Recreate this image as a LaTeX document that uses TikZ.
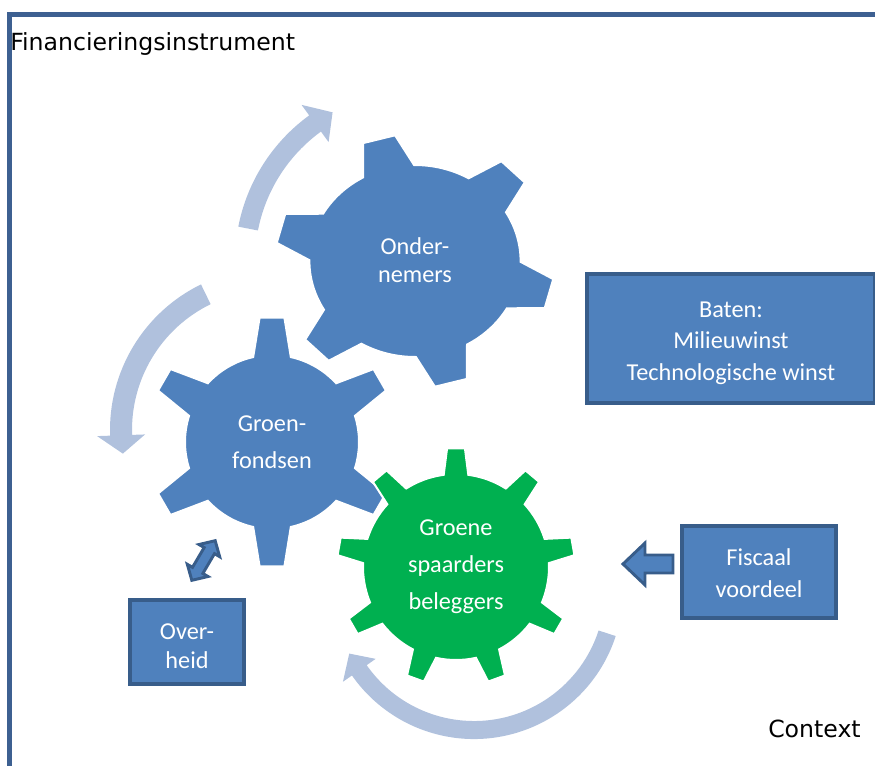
\documentclass[tikz,border=0pt]{standalone}
\usepackage{fontspec}
\setmainfont{Carlito}
\newfontfamily\verdanafont{DejaVu Sans}
\usetikzlibrary{positioning}
\definecolor{gearblue}{HTML}{4F81BD}
\definecolor{edgeblue}{HTML}{385D8A}
\definecolor{geargreen}{HTML}{00B050}
\definecolor{arrowgrey}{HTML}{B0C1DD}
\definecolor{framecol}{HTML}{3D6091}
\newcommand*\mydrawgear[8][gearblue]{%
    \pgfmathsetmacro\gstep{360/#3}%
    \fill[shift={(#2)},#1,draw=white,line width=1.5pt] ({#4-#7}:#5)
      \foreach \k in {1,...,#3}{
        -- ({#4+(\k-1)*\gstep-#8}:#6) -- ({#4+(\k-1)*\gstep+#8}:#6)
        -- ({#4+(\k-1)*\gstep+#7}:#5)
        arc[start angle={#4+(\k-1)*\gstep+#7},end angle={#4+\k*\gstep-#7},radius=#5]
      } -- cycle;
}
\newcommand*\mydrawbend[7]{%
    \fill[arrowgrey,shift={(#1)}] (#4:{#2+#3/2})
      arc[start angle=#4,end angle=#5,radius={#2+#3/2}]
      -- (#5:{#2+#7}) -- (#6:#2) -- (#5:{#2-#7}) -- (#5:{#2-#3/2})
      arc[start angle=#5,end angle=#4,radius={#2-#3/2}] -- cycle;
}
\tikzset{
    geartext/.style={text=white,align=center,inner sep=0pt},
    infobox/.style={fill=gearblue,draw=edgeblue,line width=3pt,inner sep=0pt},
    blockarrow/.style={fill=gearblue,draw=edgeblue,line width=2.2pt,line join=miter},
}

\begin{document}
\begin{tikzpicture}[x=0.75pt,y=-0.75pt]
\useasboundingbox (0,0) rectangle (875,765);
\clip (0,0) rectangle (875,765);
\draw[framecol,line width=3.75pt] (9,800) -- (9,14.5) -- (900,14.5);

\coordinate (O) at (415,261);
\coordinate (G) at (272,442);
\coordinate (S) at (456,567);
\coordinate (Ga) at (272,430);
\coordinate (Sa) at (474,590);

% turning arrows
\mydrawbend{O}{170}{20}{191}{234}{241}{23}
\mydrawbend{Ga}{151}{22}{244}{178}{171}{24}
\mydrawbend{Sa}{140}{18}{18}{145}{153}{20}

% gears
\mydrawgear[gearblue,xscale=1.1]{O}{6}{15}{96}{127}{14.5}{6.8}
\mydrawgear{G}{6}{30}{87}{125}{12.5}{5.7}
\mydrawgear[geargreen]{S}{9}{30}{93}{119}{7.6}{4.3}

\node[geartext,font=\fontsize{18.2}{21}\selectfont] (onder) at ([yshift=1pt]O) {Onder-\\nemers};
\node[geartext,font=\fontsize{18.2}{27.75}\selectfont] (groen) at (G) {Groen-\\fondsen};
\node[geartext,font=\fontsize{18.2}{27.75}\selectfont] (spaar) at (S) {Groene\\spaarders\\beleggers};

\node[infobox,minimum width=216pt,minimum height=96.75pt] (baten) at (731,338.5) {};
\node[geartext,font=\fontsize{18.2}{23.6}\selectfont] (batentext) at ([yshift=-3.5pt]baten) {Baten:\\Milieuwinst\\Technologische winst};
\node[infobox,minimum width=115.5pt,minimum height=69pt] (fiscaal) at (759,572) {};
\node[geartext,font=\fontsize{18.2}{24}\selectfont] (fiscaaltext) at ([yshift=-1pt]fiscaal) {Fiscaal\\voordeel};
\node[infobox,minimum width=85.5pt,minimum height=63pt] (over) at (187,642) {};
\node[geartext,font=\fontsize{18.2}{21.75}\selectfont] (overtext) at ([yshift=-3.5pt]over) {Over-\\heid};

% block arrows
\draw[blockarrow] (623,564) -- (645,543) -- (645,555) -- (673,555) -- (673,573) -- (645,573) -- (645,585) -- cycle;
\begin{scope}[shift={(203.5,560.5)},rotate=59.5]
\draw[blockarrow] (-23,0) -- (-11.5,-12) -- (-11.5,-6) -- (11.5,-6) -- (11.5,-12)
  -- (23,0) -- (11.5,12) -- (11.5,6) -- (-11.5,6) -- (-11.5,12) -- cycle;
\end{scope}

\node[anchor=base west,inner sep=0pt,font=\verdanafont\fontsize{17.7}{20}\selectfont] (title) at (10,50) {Financieringsinstrument};
\node[anchor=base west,inner sep=0pt,font=\verdanafont\fontsize{17.7}{20}\selectfont] (context) at (768,737) {Context};
\end{tikzpicture}
\end{document}
